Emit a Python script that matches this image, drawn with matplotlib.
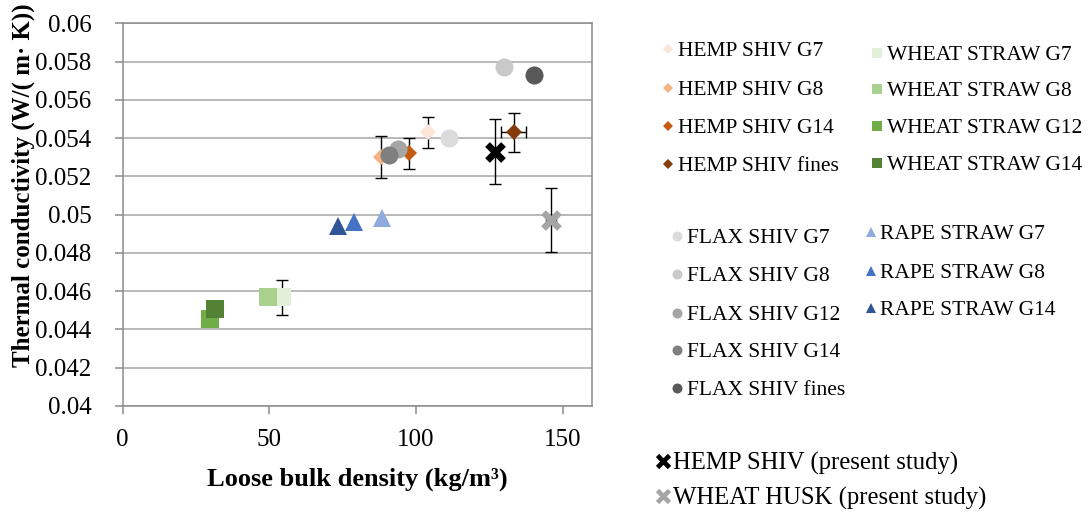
import matplotlib
matplotlib.use("Agg")
import matplotlib.pyplot as plt
from matplotlib.lines import Line2D
from matplotlib.ticker import MultipleLocator, FuncFormatter

plt.rcParams["font.family"] = ["Liberation Serif", "DejaVu Serif"]

# ---- data: loose bulk density (kg/m3) vs thermal conductivity (W/(m.K)) ----
hemp_labels = ["HEMP SHIV G7", "HEMP SHIV G8", "HEMP SHIV G14", "HEMP SHIV fines"]
hemp_density = [104.0, 88.0, 97.5, 133.3]
hemp_lambda = [0.0543, 0.0530, 0.0532, 0.0543]
hemp_lambda_err = [0.0008, 0.0011, 0.0008, 0.0010]
hemp_density_err = [0.0, 0.0, 0.0, 4.3]
hemp_colors = ["#fbe5d6", "#f4b183", "#c55a11", "#843c0c"]

flax_labels = ["FLAX SHIV G7", "FLAX SHIV G8", "FLAX SHIV G12", "FLAX SHIV G14", "FLAX SHIV fines"]
flax_density = [111.2, 129.9, 93.8, 90.7, 140.3]
flax_lambda = [0.0540, 0.0577, 0.05343, 0.05311, 0.05728]
flax_colors = ["#dbdbdb", "#c9c9c9", "#a5a5a5", "#7f7f7f", "#595959"]

wheat_labels = ["WHEAT STRAW G7", "WHEAT STRAW G8", "WHEAT STRAW G12", "WHEAT STRAW G14"]
wheat_density = [54.2, 49.6, 29.9, 31.3]
wheat_lambda = [0.04567, 0.04567, 0.04457, 0.04507]
wheat_lambda_err = [0.0009, 0.0, 0.0, 0.0]
wheat_colors = ["#e2f0d9", "#a9d18e", "#70ad47", "#548235"]

rape_labels = ["RAPE STRAW G7", "RAPE STRAW G8", "RAPE STRAW G14"]
rape_density = [88.4, 78.9, 73.3]
rape_lambda = [0.0498, 0.04962, 0.04941]
rape_colors = ["#8faadc", "#4472c4", "#2f5597"]

study_labels = ["HEMP SHIV (present study)", "WHEAT HUSK (present study)"]
study_density = [127.0, 146.0]
study_lambda = [0.05329, 0.04971]
study_lambda_err = [0.0017, 0.00168]
study_density_err = [0.0, 1.7]
study_colors = ["#000000", "#a5a5a5"]

# ---- figure ----
W, H = 1090, 513
fig = plt.figure(figsize=(W / 100, H / 100), dpi=100)
ax = fig.add_axes([0.11257, 0.20877, 0.43055, 0.74561])


def draw(xs, ys, colors, marker, ms, yerr=None, xerr=None, mew=0.0):
    """One point at a time: its error bars first, then its marker on top."""
    for i, (x, y, c) in enumerate(zip(xs, ys, colors)):
        ye = yerr[i] if (yerr is not None and yerr[i] > 0) else None
        xe = xerr[i] if (xerr is not None and xerr[i] > 0) else None
        if ye is not None or xe is not None:
            ax.errorbar(x, y, yerr=ye, xerr=xe, fmt="none", ecolor="black",
                        elinewidth=1.0, capsize=4.3, capthick=1.0)
        if marker == "x":
            ax.plot([x], [y], linestyle="none", marker="x", markersize=ms,
                    markeredgecolor=c, markeredgewidth=mew)
        else:
            ax.plot([x], [y], linestyle="none", marker=marker, markersize=ms,
                    markerfacecolor=c, markeredgecolor=c, markeredgewidth=0)


draw(hemp_density, hemp_lambda, hemp_colors, "D", 8.5, hemp_lambda_err, hemp_density_err)
draw(flax_density, flax_lambda, flax_colors, "o", 13)
draw(wheat_density, wheat_lambda, wheat_colors, "s", 13.5, wheat_lambda_err)
draw(rape_density, rape_lambda, rape_colors, "^", 13)
draw(study_density, study_lambda, study_colors, "x", 11.5, study_lambda_err, study_density_err, mew=4.8)

ax.set_xlim(0, 160)
ax.set_ylim(0.04, 0.06)
ax.xaxis.set_major_locator(MultipleLocator(50))
ax.yaxis.set_major_locator(MultipleLocator(0.002))
ax.yaxis.set_major_formatter(FuncFormatter(lambda v, p: f"{v:g}"))

ax.yaxis.grid(True, color="#a6a6a6", lw=1.1)
ax.set_axisbelow(True)
for s in ax.spines.values():
    s.set_color("#8c8c8c")
    s.set_linewidth(1.1)
ax.tick_params(direction="out", length=5.5, width=1.1, color="#8c8c8c",
               labelsize=18, labelcolor="black")
ax.tick_params(axis="x", pad=11)
ax.tick_params(axis="y", pad=17)

fig.text(357.5 / W, 1 - 485.7 / H, "Loose bulk density (kg/m³)", ha="center",
         va="baseline", fontsize=19, fontweight="bold")
fig.text(23 / W, 1 - 185 / H, "Thermal conductivity (W/( m· K))", ha="center",
         va="center", rotation=90, fontsize=18, fontweight="bold")


# ---- legend columns ----
def legend_column(labels, colors, marker, ms, mx, tx, rows, fs=15.5, mew=0.0):
    cap_half = 0.662 * fs * 100 / 72 / 2
    for lab, c, r in zip(labels, colors, rows):
        if marker == "x":
            h = Line2D([mx / W], [1 - r / H], transform=fig.transFigure, marker="x",
                       markersize=ms, markeredgecolor=c, markeredgewidth=mew,
                       linestyle="none")
        else:
            h = Line2D([mx / W], [1 - r / H], transform=fig.transFigure, marker=marker,
                       markersize=ms, markerfacecolor=c, markeredgecolor=c,
                       markeredgewidth=0, linestyle="none")
        fig.add_artist(h)
        fig.text(tx / W, 1 - (r + cap_half) / H, lab, ha="left", va="baseline", fontsize=fs)


legend_column(hemp_labels, hemp_colors, "D", 5.5, 668, 678, [49.2, 87.5, 125.8, 164.2])
legend_column(wheat_labels, wheat_colors, "s", 6.8, 877, 887, [52.5, 89.2, 125.8, 162.5])
legend_column(flax_labels, flax_colors, "o", 7.2, 677, 687, [235.8, 274.2, 312.5, 350.2, 387.5])
legend_column(rape_labels, rape_colors, "^", 7.0, 871, 880, [232.2, 270.5, 308.2])
legend_column(study_labels, study_colors, "x", 8, 663, 673, [461.2, 496.3], fs=17.8, mew=3.4)

fig.savefig("out.png", dpi=100)
